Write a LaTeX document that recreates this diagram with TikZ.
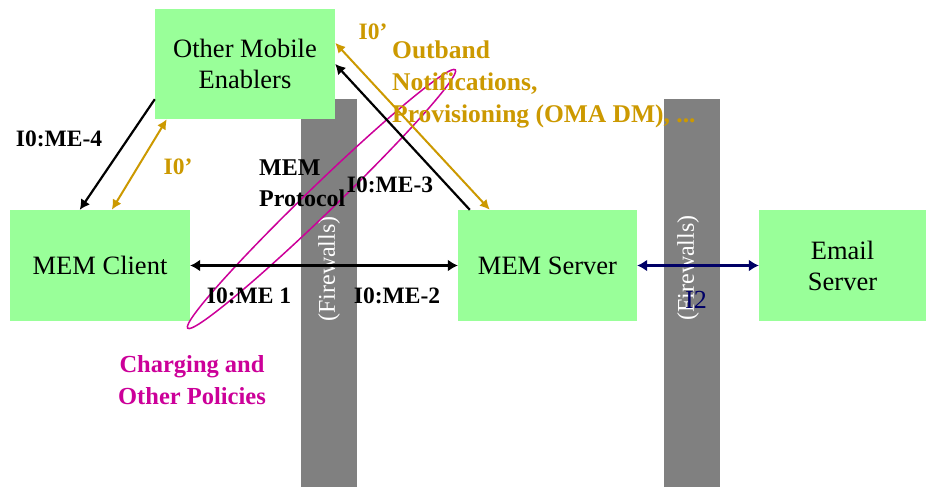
\documentclass[tikz,border=0pt]{standalone}
\usepackage{fontspec}
\setmainfont{Liberation Serif}
\usetikzlibrary{arrows.meta,shapes.geometric}
\definecolor{boxgreen}{HTML}{99FF99}
\definecolor{wallgray}{HTML}{808080}
\definecolor{ifgold}{HTML}{CC9900}
\definecolor{policypink}{HTML}{CC0099}
\definecolor{ifnavy}{HTML}{000066}
\begin{document}
\begin{tikzpicture}[x=1pt,y=-1pt,
  entity/.style={rectangle, fill=boxgreen, inner sep=0pt, align=center,
    font=\fontsize{26.5}{31}\selectfont},
  wall/.style={rectangle, fill=wallgray, inner sep=0pt,
    minimum width=56pt, minimum height=388pt},
  walltext/.style={text=white, rotate=90, inner sep=0pt,
    font=\fontsize{24}{28}\selectfont},
  lbl/.style={inner sep=0pt, font=\bfseries\fontsize{23.5}{31}\selectfont},
  both/.style={line width=2.4pt, {Latex[length=10pt,width=12pt]}-{Latex[length=10pt,width=12pt]}},
  single/.style={line width=2.2pt, -{Latex[length=10pt,width=11pt]}},
  thinboth/.style={line width=2pt, {Latex[length=10pt,width=10pt]}-{Latex[length=10pt,width=10pt]}}
]
\useasboundingbox (0,0) rectangle (926,487);
\fill[white] (0,0) rectangle (926,487);

% firewalls
\node[wall] (fw1) at (329,293) {};
\node[wall] (fw2) at (692,293) {};
\node[walltext] (fw1label) at (329,269) {(Firewalls)};
\node[walltext] (fw2label) at (688,268) {(Firewalls)};

% entities
\node[entity, minimum width=180pt, minimum height=110pt] (ome) at (245,64) {Other Mobile\\Enablers};
\node[entity, minimum width=180pt, minimum height=111pt] (client) at (100,265.5) {MEM Client};
\node[entity, minimum width=179pt, minimum height=111pt] (server) at (547.5,265.5) {MEM Server};
\node[entity, minimum width=167pt, minimum height=111pt] (email) at (842.5,265.5) {Email\\Server};

% policy enforcement loop
\node[draw=policypink, line width=1.5pt, ellipse, inner sep=0pt,
  minimum width=372pt, minimum height=28pt, rotate=44] (policy) at (321.5,199) {};

% interfaces
\draw[both] (client.east) -- (server.west);
\draw[both, ifnavy] (server.east) -- (email.west);
\draw[single] ([yshift=20pt]ome.south west) -- ([xshift=70pt]client.north west);
\draw[thinboth, ifgold] ([xshift=12pt]ome.south west) -- ([xshift=102pt]client.north west);
\draw[single] ([xshift=12pt]server.north west) -- (ome.east);
\draw[thinboth, ifgold] ([yshift=-34pt]ome.north east) -- ([xshift=32pt]server.north west);

% labels
\node[lbl] (me4) at (59,139) {I0:ME-4};
\node[lbl, text=ifgold] (ioleft) at (178,167) {I0'};
\node[lbl, align=left, anchor=north west, font=\bfseries\fontsize{24}{31}\selectfont] (proto) at (259,160) {MEM\\Protocol};
\node[lbl] (me3) at (390,185) {I0:ME-3};
\node[lbl, text=ifgold] (iotop) at (373,32) {I0'};
\node[lbl, text=ifgold, align=left, anchor=north west, font=\bfseries\fontsize{25.5}{32}\selectfont] (outband) at (392,41)
  {Outband\\Notifications,\\Provisioning (OMA DM), ...};
\node[lbl] (me1) at (249,296) {I0:ME 1};
\node[lbl] (me2) at (397,296) {I0:ME-2};
\node[inner sep=0pt, text=ifnavy, font=\fontsize{26}{31}\selectfont] (i2) at (696,300) {I2};
\node[lbl, text=policypink, align=center, font=\bfseries\fontsize{24.5}{32}\selectfont] (charging) at (192,380)
  {Charging and\\Other Policies};
\end{tikzpicture}
\end{document}
